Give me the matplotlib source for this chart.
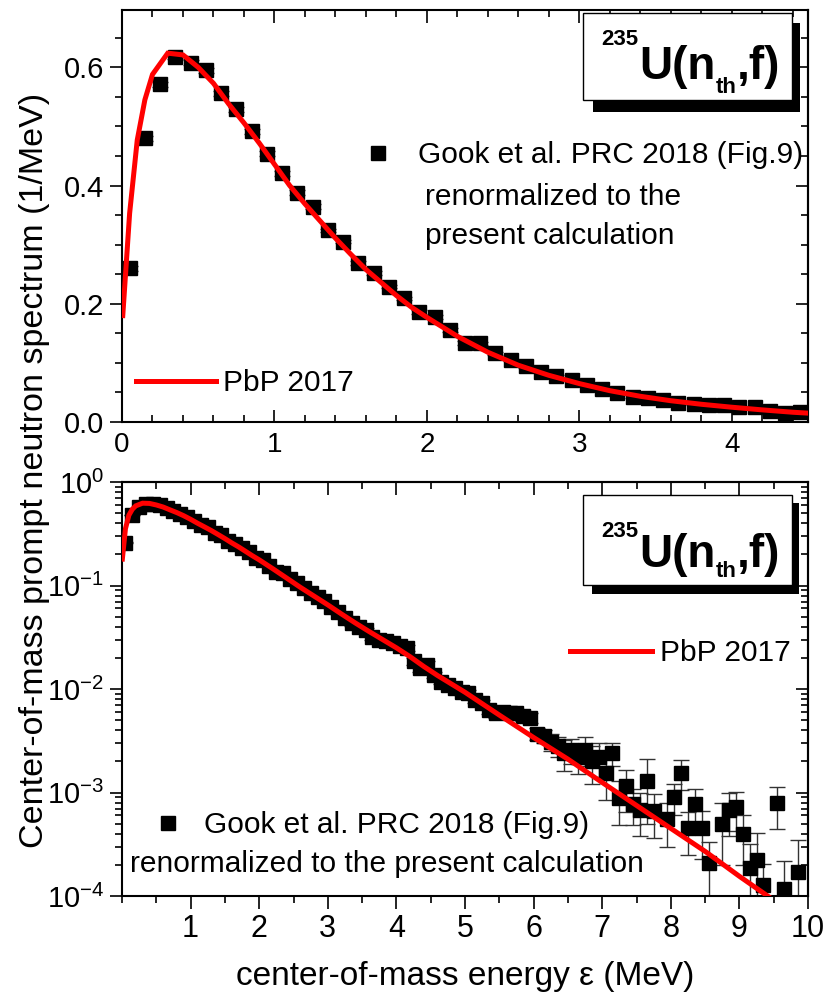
import matplotlib
matplotlib.use("Agg")
import matplotlib.pyplot as plt
from matplotlib.ticker import MultipleLocator, FixedLocator, FormatStrFormatter, LogLocator, NullFormatter
from matplotlib.patches import Rectangle
from matplotlib.lines import Line2D
from matplotlib import font_manager as fm

# ---------------- data ----------------
gook_e = [0.05, 0.15, 0.25, 0.35, 0.45, 0.55, 0.65, 0.75, 0.85, 0.95,
          1.05, 1.15, 1.25, 1.35, 1.45, 1.55, 1.65, 1.75, 1.85, 1.95,
          2.05, 2.15, 2.25, 2.35, 2.45, 2.55, 2.65, 2.75, 2.85, 2.95,
          3.05, 3.15, 3.25, 3.35, 3.45, 3.55, 3.65, 3.75, 3.85, 3.95,
          4.05, 4.15, 4.25, 4.35, 4.45,
          4.55, 4.65, 4.75, 4.85, 4.95, 5.05, 5.15, 5.25, 5.35, 5.45,
          5.55, 5.65, 5.75, 5.85, 5.95, 6.05, 6.15, 6.25, 6.35, 6.45,
          6.55, 6.65, 6.75, 6.85, 6.95,
          7.05, 7.15, 7.25, 7.35, 7.45, 7.55, 7.65, 7.75, 7.95, 8.05,
          8.15, 8.25, 8.35, 8.45, 8.55, 8.75, 8.85, 8.95, 9.05, 9.15,
          9.25, 9.35, 9.55, 9.65, 9.85]
gook_v = [0.260, 0.480, 0.571, 0.618, 0.608, 0.595, 0.556, 0.529, 0.492, 0.454,
          0.421, 0.388, 0.364, 0.324, 0.305, 0.269, 0.252, 0.229, 0.209, 0.186,
          0.178, 0.156, 0.134, 0.133, 0.116, 0.105, 0.094, 0.085, 0.077, 0.071,
          0.0625, 0.055, 0.049, 0.043, 0.040, 0.037, 0.032, 0.030, 0.029, 0.028,
          0.026, 0.025, 0.0185, 0.016, 0.017,
          0.0137, 0.0118, 0.0110, 0.0102, 0.0094, 0.0091, 0.0078, 0.0073, 0.0062, 0.0058,
          0.0060, 0.0058, 0.0058, 0.0055, 0.0053, 0.0037, 0.0035, 0.0031, 0.0028, 0.0024,
          0.0026, 0.0022, 0.0026, 0.0020, 0.0022,
          0.00155, 0.0024, 0.00089, 0.00115, 0.00078, 0.00068, 0.0013, 0.00066, 0.00055, 0.00091,
          0.00155, 0.00045, 0.00078, 0.00045, 0.00021, 0.00050, 0.00068, 0.00072, 0.00040, 0.000186,
          0.000224, 0.000129, 0.00079, 0.000116, 0.00017]
gook_err = [0.004, 0.004, 0.004, 0.004, 0.004, 0.004, 0.004, 0.004, 0.004, 0.004,
            0.004, 0.004, 0.004, 0.003, 0.003, 0.003, 0.003, 0.003, 0.003, 0.003,
            0.003, 0.003, 0.003, 0.003, 0.003, 0.002, 0.002, 0.002, 0.002, 0.002,
            0.002, 0.002, 0.002, 0.002, 0.002, 0.002, 0.002, 0.002, 0.002, 0.002,
            0.0015, 0.0015, 0.0015, 0.0015, 0.0015,
            0.0008, 0.0007, 0.0007, 0.0006, 0.0006, 0.0006, 0.0005, 0.0005, 0.0005, 0.0005,
            0.0005, 0.0006, 0.0006, 0.0006, 0.0006, 0.0005, 0.0005, 0.0006, 0.0006, 0.0008,
            0.0007, 0.0007, 0.0008, 0.0008, 0.0008,
            0.0007, 0.0006, 0.0004, 0.0005, 0.0003, 0.0003, 0.0008, 0.0003, 0.00025, 0.0003,
            0.0005, 0.0002, 0.0003, 0.00022, 0.00012, 0.0003, 0.0003, 0.0003, 0.0002, 0.00013,
            0.00018, 0.000075, 0.00035, 0.0001, 0.00018]

pbp_e = [0.005, 0.05, 0.1, 0.15, 0.2, 0.3, 0.4, 0.5, 0.6, 0.7, 0.8, 0.9, 1.0,
         1.1, 1.2, 1.3, 1.4, 1.5, 1.6, 1.7, 1.8, 1.9, 2.0, 2.2, 2.4, 2.6, 2.8,
         3.0, 3.2, 3.4, 3.6, 3.8, 4.0, 4.2, 4.4, 4.6, 5.0, 5.5, 6.0, 6.5, 7.0,
         7.5, 8.0, 8.5, 9.0, 9.5]
pbp_v = [0.18, 0.353, 0.477, 0.545, 0.588, 0.624, 0.621, 0.600, 0.573, 0.538,
         0.506, 0.472, 0.436, 0.400, 0.369, 0.340, 0.311, 0.284, 0.258, 0.236,
         0.214, 0.194, 0.177, 0.145, 0.118, 0.096, 0.079, 0.065, 0.053, 0.0435,
         0.036, 0.030, 0.0250, 0.0205, 0.0165, 0.0135, 0.0093, 0.0056, 0.0034,
         0.0021, 0.00125, 0.00075, 0.00045, 0.00027, 0.000155, 0.000091]

top_xticks = [0, 1, 2, 3, 4]
bot_xticks = [1, 2, 3, 4, 5, 6, 7, 8, 9, 10]

lbl_gook = "Gook et al. PRC 2018 (Fig.9)"
lbl_pbp = "PbP 2017"

# ---------------- style ----------------
names = {f.name for f in fm.fontManager.ttflist}
NARROW = "Liberation Sans Narrow" if "Liberation Sans Narrow" in names else None

plt.rcParams["font.family"] = ["Liberation Sans", "DejaVu Sans"]
plt.rcParams["mathtext.fontset"] = "custom"
plt.rcParams["mathtext.rm"] = "Liberation Sans"
plt.rcParams["mathtext.it"] = "Liberation Sans:italic"
plt.rcParams["mathtext.bf"] = "Liberation Sans:bold"
plt.rcParams["axes.unicode_minus"] = False

W, H = 827, 1001
fig = plt.figure(figsize=(W / 100, H / 100), dpi=100)


def fx(px):
    return px / W


def fy(py):
    return 1 - py / H


ax1 = fig.add_axes([fx(122), fy(422), (808 - 122) / W, (422 - 10) / H])
ax2 = fig.add_axes([fx(122), fy(896), (808 - 122) / W, (896 - 482) / H])

SPW = 1.5
for ax in (ax1, ax2):
    ax.errorbar(gook_e, gook_v, yerr=gook_err, fmt="s", ms=10.5, mfc="black", mec="black",
                ecolor="#333333", elinewidth=1.0, capsize=6, capthick=1.0, zorder=2)
    ax.plot(pbp_e, pbp_v, color="#ff0000", lw=3.6, zorder=3, solid_joinstyle="miter")
    for s in ax.spines.values():
        s.set_linewidth(SPW)

# ---- top panel ----
ax1.set_xlim(0, 4.5)
ax1.set_ylim(0, 0.697)
ax1.xaxis.set_major_locator(FixedLocator(top_xticks))
ax1.xaxis.set_major_formatter(FormatStrFormatter("%d"))
ax1.xaxis.set_minor_locator(MultipleLocator(0.2))
ax1.yaxis.set_major_locator(MultipleLocator(0.2))
ax1.yaxis.set_minor_locator(MultipleLocator(0.05))
ax1.yaxis.set_major_formatter(FormatStrFormatter("%.1f"))
ax1.tick_params(axis="x", which="both", direction="in", top=True, bottom=True, width=1.2)
ax1.tick_params(axis="x", which="major", length=9, labelsize=20, pad=7)
ax1.tick_params(axis="x", which="minor", length=5)
ax1.tick_params(axis="y", which="both", direction="out", right=False, width=1.2)
ax1.tick_params(axis="y", which="major", length=9, labelsize=21, pad=4)
ax1.tick_params(axis="y", which="minor", length=5)
sec1 = ax1.secondary_yaxis("right")
sec1.yaxis.set_major_locator(MultipleLocator(0.2))
sec1.yaxis.set_minor_locator(MultipleLocator(0.05))
sec1.tick_params(which="both", direction="in", labelright=False, width=1.2)
sec1.tick_params(which="major", length=9)
sec1.tick_params(which="minor", length=5)
sec1.spines["right"].set_linewidth(SPW)

# ---- bottom panel ----
ax2.set_yscale("log")
ax2.set_xlim(0, 10)
ax2.set_ylim(1e-4, 1.0)
ax2.xaxis.set_major_locator(FixedLocator(bot_xticks))
ax2.xaxis.set_major_formatter(FormatStrFormatter("%d"))
ax2.xaxis.set_minor_locator(MultipleLocator(0.5))
ax2.yaxis.set_major_locator(LogLocator(base=10, numticks=10))
ax2.yaxis.set_minor_locator(LogLocator(base=10, subs=(2, 3, 4, 5, 6, 7, 8, 9), numticks=20))
ax2.yaxis.set_minor_formatter(NullFormatter())
ax2.tick_params(axis="x", which="both", direction="out", top=False, width=1.2)
xfam = [NARROW, "Liberation Sans"] if NARROW else ["Liberation Sans"]
ax2.tick_params(axis="x", which="major", length=9, labelsize=26 if NARROW else 22, pad=4)
ax2.tick_params(axis="x", which="minor", length=5)
for lab in ax2.get_xticklabels():
    lab.set_family(xfam)
ax2.tick_params(axis="y", which="both", direction="out", right=False, width=1.2)
ax2.tick_params(axis="y", which="major", length=9, labelsize=21, pad=4)
ax2.tick_params(axis="y", which="minor", length=5)
sec2x = ax2.secondary_xaxis("top")
sec2x.xaxis.set_major_locator(FixedLocator(bot_xticks))
sec2x.xaxis.set_minor_locator(MultipleLocator(0.5))
sec2x.tick_params(which="both", direction="in", labeltop=False, width=1.2)
sec2x.tick_params(which="major", length=9)
sec2x.tick_params(which="minor", length=5)
sec2x.spines["top"].set_linewidth(SPW)
sec2y = ax2.secondary_yaxis("right")
sec2y.yaxis.set_major_locator(LogLocator(base=10, numticks=10))
sec2y.yaxis.set_minor_locator(LogLocator(base=10, subs=(2, 3, 4, 5, 6, 7, 8, 9), numticks=20))
sec2y.yaxis.set_minor_formatter(NullFormatter())
sec2y.tick_params(which="both", direction="in", labelright=False, width=1.2)
sec2y.tick_params(which="major", length=9)
sec2y.tick_params(which="minor", length=5)
sec2y.spines["right"].set_linewidth(SPW)

# ---------------- legends ----------------
LFS = 21.5
sq = Line2D([], [], ls="none", marker="s", ms=10.5, color="black")
rl = Line2D([], [], color="#ff0000", lw=3.6)


def add_leg(ax, handle, label, x_px, y_px, hl, pad):
    lg = ax.legend([handle], [label], loc="center left",
                   bbox_to_anchor=(fx(x_px), fy(y_px)), bbox_transform=fig.transFigure,
                   frameon=False, fontsize=LFS, handlelength=hl, handletextpad=pad,
                   borderpad=0, borderaxespad=0)
    return lg


lg1 = add_leg(ax1, sq, lbl_gook, 363, 155, 1.0, 0.84)
ax1.add_artist(lg1)
add_leg(ax1, rl, lbl_pbp, 136, 383, 2.68, 0.25)
fig.text(fx(425), fy(197), "renormalized to the", fontsize=LFS, va="center", ha="left")
fig.text(fx(425), fy(236), "present calculation", fontsize=LFS, va="center", ha="left")

lg3 = add_leg(ax2, sq, lbl_gook, 153, 825, 1.0, 0.7)
ax2.add_artist(lg3)
add_leg(ax2, rl, lbl_pbp, 570, 653, 2.75, 0.25)
fig.text(fx(130), fy(864), "renormalized to the present calculation", fontsize=LFS,
         va="center", ha="left")


# ---------------- reaction boxes ----------------
def reaction_box(ax, box, shadow, b235, bU, bth):
    x0, y0, x1, y1 = shadow
    ax.add_patch(Rectangle((fx(x0), fy(y1)), (x1 - x0) / W, (y1 - y0) / H,
                           transform=fig.transFigure, facecolor="black", edgecolor="black",
                           lw=0, zorder=6, clip_on=False))
    x0, y0, x1, y1 = box
    ax.add_patch(Rectangle((fx(x0), fy(y1)), (x1 - x0) / W, (y1 - y0) / H,
                           transform=fig.transFigure, facecolor="white", edgecolor="black",
                           lw=1.0, zorder=7, clip_on=False))
    t1 = ax.text(fx(601), fy(b235), "235", transform=fig.transFigure, fontsize=16,
                 fontweight="bold", va="baseline", ha="left", zorder=8)
    t2 = ax.annotate("U(n", xy=(1, fy(bU)), xycoords=(t1, "figure fraction"),
                     xytext=(1, 0), textcoords="offset points", fontsize=33,
                     fontweight="bold", va="baseline", ha="left", zorder=8,
                     annotation_clip=False)
    t3 = ax.annotate("th", xy=(1, fy(bth)), xycoords=(t2, "figure fraction"),
                     xytext=(0, 0), textcoords="offset points", fontsize=16,
                     fontweight="bold", va="baseline", ha="left", zorder=8,
                     annotation_clip=False)
    ax.annotate(",f)", xy=(1, fy(bU)), xycoords=(t3, "figure fraction"),
                xytext=(0, 0), textcoords="offset points", fontsize=33,
                fontweight="bold", va="baseline", ha="left", zorder=8,
                annotation_clip=False)


reaction_box(ax1, (583, 13, 792, 100), (593, 23, 800, 112), 45, 79, 93)
reaction_box(ax2, (583, 495, 792, 585), (592, 503, 799, 594), 537, 567, 577)

# ---------------- axis titles ----------------
tfam = [NARROW, "Liberation Sans", "DejaVu Sans"] if NARROW else ["Liberation Sans", "DejaVu Sans"]
fig.text(fx(35), fy(470), "Center-of-mass prompt neutron spectrum (1/MeV)", rotation=90,
         ha="center", va="center", fontsize=31 if NARROW else 24.5, family=tfam)
fig.text(fx(465), fy(977), "center-of-mass energy \u03b5 (MeV)", ha="center", va="center",
         fontsize=30 if NARROW else 24, family=tfam)

fig.savefig("out.png", dpi=100)
